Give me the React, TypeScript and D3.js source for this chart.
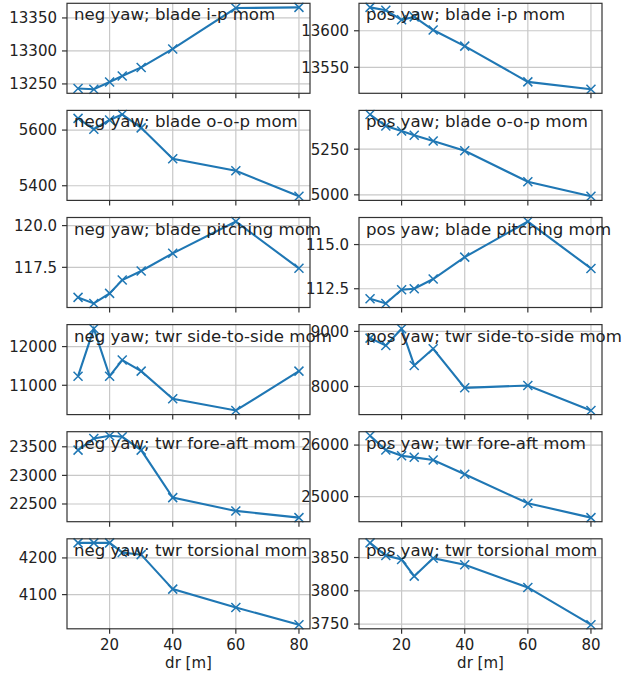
import React from "react";
import * as d3 from "d3";

// x positions (dr [m]) shared by every panel
const dr = [10, 15, 20, 24, 30, 40, 60, 80];
const drTicks = [20, 40, 60, 80];

const titles = [
  "neg yaw; blade i-p mom",
  "pos yaw; blade i-p mom",
  "neg yaw; blade o-o-p mom",
  "pos yaw; blade o-o-p mom",
  "neg yaw; blade pitching mom",
  "pos yaw; blade pitching mom",
  "neg yaw; twr side-to-side mom",
  "pos yaw; twr side-to-side mom",
  "neg yaw; twr fore-aft mom",
  "pos yaw; twr fore-aft mom",
  "neg yaw; twr torsional mom",
  "pos yaw; twr torsional mom",
];

const negBladeIp = [13243, 13242, 13253, 13262, 13275, 13303, 13365, 13366];
const posBladeIp = [13632, 13628, 13615, 13619, 13601, 13579, 13530, 13520];
const negBladeOop = [5642, 5603, 5636, 5656, 5608, 5497, 5454, 5362];
const posBladeOop = [5440, 5377, 5350, 5326, 5295, 5241, 5072, 4992];
const negBladePitch = [115.7, 115.34, 115.94, 116.74, 117.28, 118.34, 120.24, 117.44];
const posBladePitch = [111.93, 111.67, 112.44, 112.5, 113.05, 114.29, 116.3, 113.65];
const negTwrSs = [11235, 12462, 11235, 11653, 11366, 10653, 10348, 11366];
const posTwrSs = [8878, 8745, 9049, 8382, 8685, 7976, 8018, 7564];
const negTwrFa = [23442, 23646, 23692, 23674, 23442, 22611, 22379, 22262];
const posTwrFa = [26180, 25903, 25793, 25762, 25710, 25433, 24872, 24593];
const negTwrTor = [4241, 4241, 4241, 4215, 4209, 4115, 4065, 4018];
const posTwrTor = [3872, 3853, 3847, 3822, 3849, 3839, 3805, 3749];

const yTicks = [
  [13250, 13300, 13350],
  [13550, 13600],
  [5400, 5600],
  [5000, 5250],
  [117.5, 120.0],
  [112.5, 115.0],
  [11000, 12000],
  [8000, 9000],
  [22500, 23000, 23500],
  [25000, 26000],
  [4100, 4200],
  [3750, 3800, 3850],
];
const yFormats = ["d", "d", "d", "d", ".1f", ".1f", "d", "d", "d", "d", "d", "d"];

const series = [
  negBladeIp, posBladeIp, negBladeOop, posBladeOop, negBladePitch, posBladePitch,
  negTwrSs, posTwrSs, negTwrFa, posTwrFa, negTwrTor, posTwrTor,
];

const W = 624;
const H = 676;
const colX = [67, 359];
const axW = 243;
const axH = 90;
const rowTop = (r: number) => 3.3 + r * 107.1;
const blue = "#1f77b4";
const font = "DejaVu Sans, sans-serif";

const Panel = ({ idx }: { idx: number }) => {
  const row = Math.floor(idx / 2);
  const col = idx % 2;
  const x0 = colX[col];
  const y0 = rowTop(row);
  const vals = series[idx];
  const lo = d3.min(vals)!;
  const hi = d3.max(vals)!;
  const pad = (hi - lo) * 0.05;

  const xScale = d3.scaleLinear().domain([6.5, 83.5]).range([x0, x0 + axW]);
  const yScale = d3.scaleLinear().domain([lo - pad, hi + pad]).range([y0 + axH, y0]);
  const fmt = d3.format(yFormats[idx]);
  const pts = dr.map((d, i) => [xScale(d), yScale(vals[i])] as [number, number]);
  const line = d3.line()(pts);
  const m = 4.5;

  return (
    <g>
      {drTicks.map(t => (
        <line key={"gx" + t} x1={xScale(t)} x2={xScale(t)} y1={y0} y2={y0 + axH}
          stroke="#c8c8c8" strokeWidth={1.2} />
      ))}
      {yTicks[idx].map(t => (
        <line key={"gy" + t} x1={x0} x2={x0 + axW} y1={yScale(t)} y2={yScale(t)}
          stroke="#c8c8c8" strokeWidth={1.2} />
      ))}
      <path d={line!} fill="none" stroke={blue} strokeWidth={2.1} />
      {pts.map(([px, py], i) => (
        <path key={i} d={`M${px - m},${py - m}L${px + m},${py + m}M${px - m},${py + m}L${px + m},${py - m}`}
          stroke={blue} strokeWidth={1.5} />
      ))}
      <rect x={x0} y={y0} width={axW} height={axH} fill="none" stroke="#333" strokeWidth={1.2} />
      {drTicks.map(t => (
        <line key={"tx" + t} x1={xScale(t)} x2={xScale(t)} y1={y0 + axH} y2={y0 + axH + 5}
          stroke="#333" strokeWidth={1.2} />
      ))}
      {yTicks[idx].map(t => (
        <g key={"ty" + t}>
          <line x1={x0 - 5} x2={x0} y1={yScale(t)} y2={yScale(t)} stroke="#333" strokeWidth={1.2} />
          <text x={x0 - 10} y={yScale(t)} dy="0.36em" textAnchor="end" fontSize={15}
            fontFamily={font} fill="#222">{fmt(t)}</text>
        </g>
      ))}
      {row === 5 && drTicks.map(t => (
        <text key={"lx" + t} x={xScale(t)} y={y0 + axH + 21} textAnchor="middle" fontSize={15}
          fontFamily={font} fill="#222">{t}</text>
      ))}
      {row === 5 && (
        <text x={x0 + axW / 2} y={y0 + axH + 39} textAnchor="middle" fontSize={15}
          fontFamily={font} fill="#222">dr [m]</text>
      )}
      <text x={x0 + 7} y={y0 + 17} fontSize={16.6} fontFamily={font} fill="#222">{titles[idx]}</text>
    </g>
  );
};

export default function App() {
  return (
    <svg width={W} height={H} viewBox={`0 0 ${W} ${H}`}
      style={{ position: "absolute", left: 0, top: 0, background: "white" }}>
      {series.map((_, i) => <Panel key={i} idx={i} />)}
    </svg>
  );
}
